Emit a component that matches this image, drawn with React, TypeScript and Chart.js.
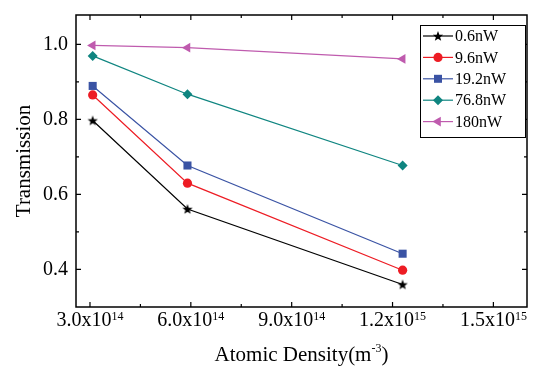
import React, { useEffect, useRef } from 'react';
import { Chart, registerables } from 'chart.js';

Chart.register(...registerables);

// ---- data ----
const densities = [3.08e14, 5.9e14, 1.23e15];
const seriesLabels = ['0.6nW', '9.6nW', '19.2nW', '76.8nW', '180nW'];
const t06 = [0.797, 0.561, 0.36];
const t96 = [0.865, 0.63, 0.398];
const t192 = [0.889, 0.677, 0.442];
const t768 = [0.969, 0.867, 0.677];
const t180 = [0.997, 0.991, 0.961];
const seriesValues = [t06, t96, t192, t768, t180];
const seriesColors = ['#000000', '#ED1C24', '#3A53A4', '#0F8580', '#BF5BAE'];
const seriesMarkers = ['star', 'circle', 'rect', 'rectRot', 'triangle'];

const xTickValues = [3e14, 6e14, 9e14, 1.2e15, 1.5e15];
const xTickMantissas = ['3.0', '6.0', '9.0', '1.2', '1.5'];
const xTickExponents = ['14', '14', '14', '15', '15'];
const xMinorTicks = [4.5e14, 7.5e14, 1.05e15, 1.35e15];
const yTickValues = [0.4, 0.6, 0.8, 1.0];
const yMinorTicks = [0.5, 0.7, 0.9];

const FONT = "'Liberation Serif', 'Times New Roman', serif";

function starPath(ctx: CanvasRenderingContext2D, x: number, y: number, r: number) {
  ctx.beginPath();
  for (let i = 0; i < 10; i++) {
    const ang = -Math.PI / 2 + (i * Math.PI) / 5;
    const rr = i % 2 ? r * 0.42 : r;
    const px = x + Math.cos(ang) * rr;
    const py = y + Math.sin(ang) * rr;
    if (i === 0) ctx.moveTo(px, py);
    else ctx.lineTo(px, py);
  }
  ctx.closePath();
}

function makeStar(color: string, r: number) {
  const size = 14;
  const c = document.createElement('canvas');
  c.width = size;
  c.height = size;
  const ctx = c.getContext('2d')!;
  ctx.fillStyle = color;
  starPath(ctx, size / 2, size / 2 + 0.5, r);
  ctx.fill();
  return c;
}

function drawMarker(ctx: CanvasRenderingContext2D, kind: string, x: number, y: number, color: string) {
  ctx.save();
  ctx.fillStyle = color;
  ctx.beginPath();
  if (kind === 'star') {
    starPath(ctx, x, y + 0.5, 5.4);
  } else if (kind === 'circle') {
    ctx.arc(x, y, 4.6, 0, Math.PI * 2);
  } else if (kind === 'rect') {
    ctx.rect(x - 4, y - 4, 8, 8);
  } else if (kind === 'rectRot') {
    const r = 5;
    ctx.moveTo(x, y - r);
    ctx.lineTo(x + r, y);
    ctx.lineTo(x, y + r);
    ctx.lineTo(x - r, y);
    ctx.closePath();
  } else {
    const r = 5.6;
    ctx.moveTo(x - r, y);
    ctx.lineTo(x + r * 0.5, y - r * 0.866);
    ctx.lineTo(x + r * 0.5, y + r * 0.866);
    ctx.closePath();
  }
  ctx.fill();
  ctx.restore();
}

const framePlugin = {
  id: 'frameAndLabels',
  afterDraw(chart: any) {
    const { ctx, chartArea: a, scales } = chart;
    const xs = scales.x;
    const ys = scales.y;
    ctx.save();
    // frame
    ctx.strokeStyle = '#000';
    ctx.lineWidth = 1.5;
    ctx.strokeRect(a.left, a.top, a.right - a.left, a.bottom - a.top);
    // ticks
    ctx.lineWidth = 1.2;
    const tick = (v: number, len: number, horiz: boolean) => {
      if (horiz) {
        const px = xs.getPixelForValue(v);
        ctx.beginPath();
        ctx.moveTo(px, a.bottom);
        ctx.lineTo(px, a.bottom - len);
        ctx.moveTo(px, a.top);
        ctx.lineTo(px, a.top + len);
        ctx.stroke();
      } else {
        const py = ys.getPixelForValue(v);
        ctx.beginPath();
        ctx.moveTo(a.left, py);
        ctx.lineTo(a.left + len, py);
        ctx.moveTo(a.right, py);
        ctx.lineTo(a.right - len, py);
        ctx.stroke();
      }
    };
    xTickValues.forEach((v) => tick(v, 5, true));
    xMinorTicks.forEach((v) => tick(v, 3, true));
    yTickValues.forEach((v) => tick(v, 5, false));
    yMinorTicks.forEach((v) => tick(v, 3, false));

    // x tick labels with superscript exponent
    ctx.fillStyle = '#000';
    ctx.textBaseline = 'alphabetic';
    ctx.textAlign = 'left';
    xTickValues.forEach((v, i) => {
      const main = xTickMantissas[i] + 'x10';
      const sup = xTickExponents[i];
      ctx.font = `20px ${FONT}`;
      const w1 = ctx.measureText(main).width;
      ctx.font = `12px ${FONT}`;
      const w2 = ctx.measureText(sup).width;
      const px = xs.getPixelForValue(v);
      const x0 = px - (w1 + w2) / 2;
      ctx.font = `20px ${FONT}`;
      ctx.fillText(main, x0, a.bottom + 19);
      ctx.font = `12px ${FONT}`;
      ctx.fillText(sup, x0 + w1, a.bottom + 13);
    });

    // x title
    const t1 = 'Atomic Density(m';
    const t2 = '-3';
    const t3 = ')';
    ctx.font = `21px ${FONT}`;
    const a1 = ctx.measureText(t1).width;
    const a3 = ctx.measureText(t3).width;
    ctx.font = `12px ${FONT}`;
    const a2 = ctx.measureText(t2).width;
    const cx = (a.left + a.right) / 2;
    let tx = cx - (a1 + a2 + a3) / 2;
    ctx.font = `21px ${FONT}`;
    ctx.fillText(t1, tx, a.bottom + 54);
    tx += a1;
    ctx.font = `12px ${FONT}`;
    ctx.fillText(t2, tx, a.bottom + 45);
    tx += a2;
    ctx.font = `21px ${FONT}`;
    ctx.fillText(t3, tx, a.bottom + 54);

    // legend
    const bx = a.right - 107;
    const by = a.top + 10;
    const bw = 105;
    const bh = 112;
    ctx.fillStyle = '#fff';
    ctx.fillRect(bx, by, bw, bh);
    ctx.strokeStyle = '#000';
    ctx.lineWidth = 1;
    ctx.strokeRect(bx + 0.5, by + 0.5, bw, bh);
    chart.data.datasets.forEach((ds: any, i: number) => {
      const ry = by + 11 + i * 21.4;
      ctx.strokeStyle = ds.borderColor;
      ctx.lineWidth = 1.2;
      ctx.beginPath();
      ctx.moveTo(bx + 3, ry);
      ctx.lineTo(bx + 33, ry);
      ctx.stroke();
      drawMarker(ctx, seriesMarkers[i], bx + 18, ry, ds.borderColor);
      ctx.fillStyle = '#000';
      ctx.font = `16px ${FONT}`;
      ctx.textBaseline = 'middle';
      ctx.fillText(ds.label, bx + 35, ry + 1);
      ctx.textBaseline = 'alphabetic';
    });
    ctx.restore();
  },
};

export default function App() {
  const ref = useRef<HTMLCanvasElement | null>(null);
  useEffect(() => {
    if (!ref.current) return;
    const datasets = seriesLabels.map((label, i) => {
      const marker = seriesMarkers[i];
      const color = seriesColors[i];
      const base: any = {
        label,
        data: densities.map((x, j) => ({ x, y: seriesValues[i][j] })),
        borderColor: color,
        backgroundColor: color,
        borderWidth: 1.2,
        pointBorderWidth: 0,
        pointBorderColor: color,
        pointBackgroundColor: color,
        tension: 0,
      };
      if (marker === 'star') {
        base.pointStyle = makeStar(color, 5.4);
        base.pointRadius = 6;
      } else if (marker === 'circle') {
        base.pointStyle = 'circle';
        base.pointRadius = 4.6;
      } else if (marker === 'rect') {
        base.pointStyle = 'rect';
        base.pointRadius = 5.7;
      } else if (marker === 'rectRot') {
        base.pointStyle = 'rectRot';
        base.pointRadius = 5;
      } else {
        base.pointStyle = 'triangle';
        base.pointRotation = -90;
        base.pointRadius = 5.6;
      }
      return base;
    });
    const chart = new Chart(ref.current, {
      type: 'line',
      data: { datasets },
      options: {
        animation: false,
        responsive: true,
        maintainAspectRatio: false,
        layout: { padding: { top: 15, right: 7, left: 0, bottom: 0 } },
        plugins: { legend: { display: false }, tooltip: { enabled: false } },
        scales: {
          x: {
            type: 'linear',
            min: 2.584e14,
            max: 1.6e15,
            grid: { display: false },
            border: { display: false },
            ticks: { display: false },
            afterBuildTicks: (s: any) => {
              s.ticks = xTickValues.map((value) => ({ value }));
            },
            afterFit: (s: any) => {
              s.height = 63;
              s.paddingLeft = 0;
              s.paddingRight = 0;
            },
          },
          y: {
            type: 'linear',
            min: 0.3,
            max: 1.078,
            grid: { display: false, drawTicks: false },
            border: { display: false },
            afterBuildTicks: (s: any) => {
              s.ticks = yTickValues.map((value) => ({ value }));
            },
            afterFit: (s: any) => {
              s.width = 76;
              s.paddingTop = 0;
              s.paddingBottom = 0;
            },
            ticks: {
              color: '#000',
              padding: 8,
              font: { family: FONT, size: 20 },
              callback: (v: any) => Number(v).toFixed(1),
            },
            title: {
              display: true,
              text: 'Transmission',
              color: '#000',
              font: { family: FONT, size: 21 },
              padding: { top: 12, bottom: 0 },
            },
          },
        },
      } as any,
      plugins: [framePlugin],
    });
    return () => chart.destroy();
  }, []);
  return (
    <div style={{ position: 'fixed', left: 0, top: 0, width: 534, height: 370, background: '#fff' }}>
      <canvas ref={ref} />
    </div>
  );
}
